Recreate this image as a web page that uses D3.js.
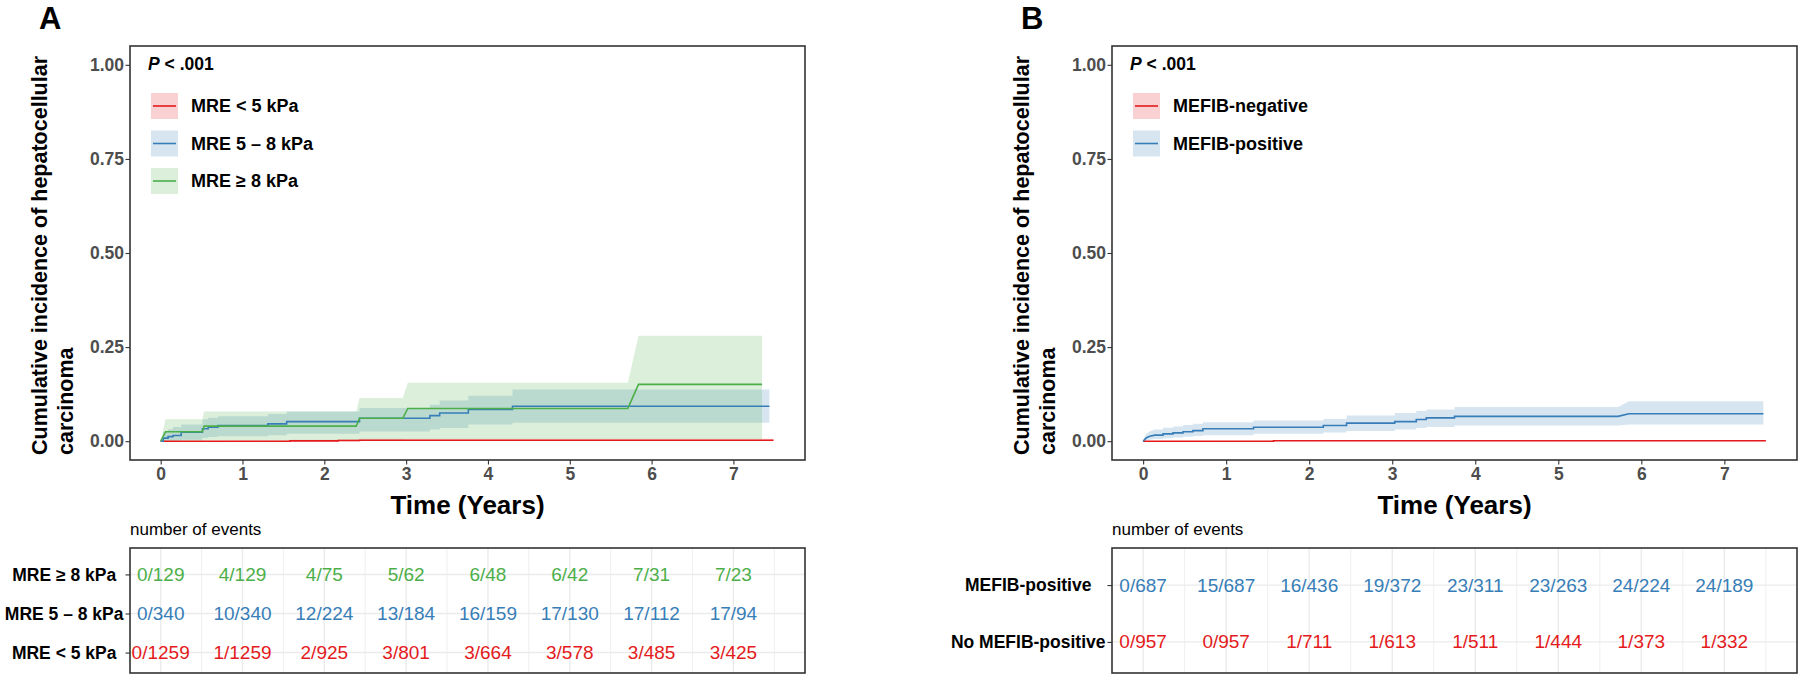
<!DOCTYPE html>
<html>
<head>
<meta charset="utf-8">
<script src="https://cdnjs.cloudflare.com/ajax/libs/d3/7.8.5/d3.min.js"></script>
<style>
  body { margin: 0; background: #fff; }
  svg { display: block; font-family: "Liberation Sans", Arial, sans-serif; }
</style>
</head>
<body>
<script>
// values
const yearTicks = [0, 1, 2, 3, 4, 5, 6, 7];
const incidenceTicks = [0, 0.25, 0.5, 0.75, 1];

const groupsA = ["MRE < 5 kPa", "MRE 5 – 8 kPa", "MRE ≥ 8 kPa"];
const colorsA = ["#E41A1C", "#377EB8", "#4DAF4A"];
const groupsB = ["MEFIB-negative", "MEFIB-positive"];
const colorsB = ["#E41A1C", "#377EB8"];

// curve vertices: [years, estimate, lower CI, upper CI]
const curveMreLow = [
  [0, 0, 0, 0], [1.58, 0, 0, 0.002], [1.58, 0.0008, 0, 0.004], [2.17, 0.0008, 0, 0.004],
  [2.17, 0.0017, 0, 0.005], [2.43, 0.0017, 0, 0.005], [2.43, 0.0025, 0.0005, 0.0065],
  [7.49, 0.0025, 0.0005, 0.0065]
];
const curveMreMid = [
  [0, 0, 0, 0], [0.03, 0, 0, 0], [0.03, 0.008, 0, 0.025], [0.09, 0.008, 0, 0.025],
  [0.09, 0.012, 0.001, 0.032], [0.15, 0.012, 0.001, 0.032], [0.15, 0.015, 0.002, 0.038],
  [0.25, 0.015, 0.002, 0.038], [0.25, 0.024, 0.004, 0.044], [0.51, 0.024, 0.004, 0.044],
  [0.51, 0.033, 0.009, 0.058], [0.58, 0.033, 0.009, 0.058], [0.58, 0.037, 0.011, 0.062],
  [0.70, 0.037, 0.011, 0.062], [0.70, 0.0415, 0.013, 0.066], [1.31, 0.0415, 0.013, 0.066],
  [1.31, 0.046, 0.016, 0.072], [1.54, 0.046, 0.016, 0.072], [1.54, 0.052, 0.020, 0.079],
  [2.43, 0.052, 0.020, 0.079], [2.43, 0.061, 0.026, 0.088], [3.29, 0.061, 0.026, 0.088],
  [3.29, 0.068, 0.031, 0.097], [3.41, 0.068, 0.031, 0.097], [3.41, 0.075, 0.035, 0.108],
  [3.76, 0.075, 0.035, 0.108], [3.76, 0.084, 0.044, 0.121], [4.30, 0.084, 0.044, 0.121],
  [4.30, 0.093, 0.049, 0.137], [7.44, 0.093, 0.049, 0.137]
];
const curveMreHigh = [
  [0, 0, 0, 0], [0.06, 0.025, 0, 0.058], [0.51, 0.025, 0, 0.058], [0.53, 0.040, 0.002, 0.079],
  [2.39, 0.040, 0.002, 0.079], [2.43, 0.061, 0.004, 0.115], [2.96, 0.061, 0.004, 0.115],
  [3.02, 0.087, 0.006, 0.155], [5.71, 0.087, 0.006, 0.155], [5.84, 0.151, 0.006, 0.28],
  [7.35, 0.151, 0.006, 0.28]
];
const curveMefibNeg = [
  [0, 0, 0, 0], [1.57, 0, 0, 0.001], [1.57, 0.001, 0, 0.003], [7.5, 0.001, 0, 0.003]
];
const curveMefibPos = [
  [0, 0, 0, 0], [0.02, 0.005, 0, 0.012], [0.04, 0.009, 0.002, 0.02], [0.08, 0.013, 0.004, 0.026],
  [0.14, 0.016, 0.006, 0.031], [0.24, 0.016, 0.006, 0.031], [0.24, 0.0195, 0.008, 0.036],
  [0.36, 0.0195, 0.008, 0.036], [0.36, 0.022, 0.010, 0.039], [0.48, 0.022, 0.010, 0.039],
  [0.48, 0.025, 0.012, 0.043], [0.60, 0.025, 0.012, 0.043], [0.60, 0.028, 0.014, 0.046],
  [0.72, 0.028, 0.014, 0.046], [0.72, 0.033, 0.016, 0.050], [1.33, 0.033, 0.016, 0.050],
  [1.33, 0.037, 0.0195, 0.055], [2.17, 0.037, 0.0195, 0.055], [2.17, 0.0416, 0.023, 0.059],
  [2.45, 0.0416, 0.023, 0.059], [2.45, 0.048, 0.027, 0.068], [3.03, 0.048, 0.027, 0.068],
  [3.03, 0.052, 0.031, 0.075], [3.29, 0.052, 0.031, 0.075], [3.29, 0.0575, 0.035, 0.080],
  [3.41, 0.0575, 0.035, 0.080], [3.41, 0.062, 0.038, 0.084], [3.75, 0.062, 0.038, 0.084],
  [3.75, 0.066, 0.042, 0.091], [5.72, 0.066, 0.042, 0.091], [5.85, 0.073, 0.044, 0.106],
  [7.47, 0.073, 0.044, 0.106]
];

// number of events tables (top row first)
const riskRowsA = ["MRE ≥ 8 kPa", "MRE 5 – 8 kPa", "MRE < 5 kPa"];
const riskColorsA = ["#4DAF4A", "#377EB8", "#E41A1C"];
const riskHigh = ["0/129", "4/129", "4/75", "5/62", "6/48", "6/42", "7/31", "7/23"];
const riskMid = ["0/340", "10/340", "12/224", "13/184", "16/159", "17/130", "17/112", "17/94"];
const riskLow = ["0/1259", "1/1259", "2/925", "3/801", "3/664", "3/578", "3/485", "3/425"];

const riskRowsB = ["MEFIB-positive", "No MEFIB-positive"];
const riskColorsB = ["#377EB8", "#E41A1C"];
const riskPos = ["0/687", "15/687", "16/436", "19/372", "23/311", "23/263", "24/224", "24/189"];
const riskNoPos = ["0/957", "0/957", "1/711", "1/613", "1/511", "1/444", "1/373", "1/332"];

const plotTop = 46, plotBottom = 460;
const tableTop = 548, tableBottom = 673;

let svg = d3.select("body").append("svg")
  .attr("width", 1800)
  .attr("height", 676);

svg.append("rect").attr("width", 1800).attr("height", 676).attr("fill", "#fff");

drawPanel({
  letter: "A", left: 130, right: 805,
  groups: groupsA, colors: colorsA,
  curves: [curveMreLow, curveMreMid, curveMreHigh],
  rows: riskRowsA, rowColors: riskColorsA,
  table: [riskHigh, riskMid, riskLow]
});

drawPanel({
  letter: "B", left: 1112, right: 1797,
  groups: groupsB, colors: colorsB,
  curves: [curveMefibNeg, curveMefibPos],
  rows: riskRowsB, rowColors: riskColorsB,
  table: [riskPos, riskNoPos]
});

function drawPanel(p) {
  let x = d3.scaleLinear().domain([-0.375, 7.875]).range([p.left, p.right]);
  let y = d3.scaleLinear().domain([-0.05, 1.05]).range([plotBottom, plotTop]);
  let g = svg.append("g");

  // panel letter
  g.append("text")
    .attr("x", p.left - 91)
    .attr("y", 28.5)
    .text(p.letter)
    .style("font-size", "31px")
    .style("font-weight", "bold");

  // ribbons then lines
  let area = d3.area()
    .x(d => x(d[0]))
    .y0(d => y(d[2]))
    .y1(d => y(d[3]));
  let line = d3.line()
    .x(d => x(d[0]))
    .y(d => y(d[1]));

  p.curves.forEach((c, i) => {
    g.append("path")
      .datum(c)
      .attr("d", area)
      .attr("fill", p.colors[i])
      .attr("fill-opacity", 0.2);
  });
  p.curves.forEach((c, i) => {
    g.append("path")
      .datum(c)
      .attr("d", line)
      .attr("fill", "none")
      .attr("stroke", p.colors[i])
      .attr("stroke-width", 1.6);
  });

  // axes
  let yAxis = d3.axisLeft(y)
    .tickValues(incidenceTicks)
    .tickFormat(d3.format(".2f"))
    .tickSize(4.5)
    .tickPadding(1.5);
  let xAxis = d3.axisBottom(x)
    .tickValues(yearTicks)
    .tickFormat(d3.format("d"))
    .tickSize(4.5)
    .tickPadding(3);

  let ya = g.append("g")
    .attr("transform", `translate(${p.left}, 0)`)
    .call(yAxis);
  let xa = g.append("g")
    .attr("transform", `translate(0, ${plotBottom})`)
    .call(xAxis);
  [ya, xa].forEach(a => {
    a.select(".domain").remove();
    a.selectAll("line").attr("stroke", "#333").attr("stroke-width", 1.1);
    a.selectAll("text")
      .attr("fill", "#4d4d4d")
      .style("font-size", "17.5px")
      .style("font-weight", "bold")
      .style("font-family", "'Liberation Sans', Arial, sans-serif");
  });

  // panel border
  g.append("rect")
    .attr("x", p.left)
    .attr("y", plotTop)
    .attr("width", p.right - p.left)
    .attr("height", plotBottom - plotTop)
    .attr("fill", "none")
    .attr("stroke", "#333")
    .attr("stroke-width", 1.6);

  // y title, two lines
  let yt = g.append("text")
    .attr("transform", `translate(${p.left - 83.5}, 455) rotate(-90)`)
    .style("font-size", "21.5px")
    .style("font-weight", "bold");
  yt.append("tspan").attr("x", 0).attr("y", 0).text("Cumulative incidence of hepatocellular");
  yt.append("tspan").attr("x", 0).attr("y", 26).text("carcinoma");

  // x title
  g.append("text")
    .attr("x", (p.left + p.right) / 2)
    .attr("y", 514)
    .attr("text-anchor", "middle")
    .text("Time (Years)")
    .style("font-size", "26px")
    .style("font-weight", "bold");

  // P value
  let pt = g.append("text")
    .attr("x", p.left + 18)
    .attr("y", 70)
    .style("font-size", "17.5px")
    .style("font-weight", "bold");
  pt.append("tspan").style("font-style", "italic").text("P");
  pt.append("tspan").text(" < .001");

  // legend
  p.groups.forEach((name, i) => {
    let cy = 106 + i * 37.5;
    g.append("rect")
      .attr("x", p.left + 21)
      .attr("y", cy - 13)
      .attr("width", 27)
      .attr("height", 26)
      .attr("fill", p.colors[i])
      .attr("fill-opacity", 0.2);
    g.append("line")
      .attr("x1", p.left + 23)
      .attr("x2", p.left + 46)
      .attr("y1", cy)
      .attr("y2", cy)
      .attr("stroke", p.colors[i])
      .attr("stroke-width", 1.6);
    g.append("text")
      .attr("x", p.left + 61)
      .attr("y", cy)
      .attr("dominant-baseline", "central")
      .text(name)
      .style("font-size", "18px")
      .style("font-weight", "bold");
  });

  drawTable(g, x, p);
}

// number of events table under the plot
function drawTable(g, x, p) {
  let ty = d3.scalePoint()
    .domain(p.rows)
    .range([tableTop + 3, tableBottom + 3])
    .padding(0.6);

  g.append("text")
    .attr("x", p.left)
    .attr("y", 535)
    .text("number of events")
    .style("font-size", "17px");

  // grid: majors at whole years, minors at half years, and one per row
  let gridX = d3.range(0, 8, 0.5);
  g.selectAll(".gx" + p.letter)
    .data(gridX)
    .enter()
    .append("line")
      .attr("x1", d => x(d))
      .attr("x2", d => x(d))
      .attr("y1", tableTop)
      .attr("y2", tableBottom)
      .attr("stroke", "#ebebeb")
      .attr("stroke-width", d => d % 1 === 0 ? 1.4 : 0.8);
  g.selectAll(".gy" + p.letter)
    .data(p.rows)
    .enter()
    .append("line")
      .attr("x1", p.left)
      .attr("x2", p.right)
      .attr("y1", d => ty(d))
      .attr("y2", d => ty(d))
      .attr("stroke", "#ebebeb")
      .attr("stroke-width", 1.4);

  p.rows.forEach((r, i) => {
    g.selectAll(".n" + p.letter + i)
      .data(p.table[i])
      .enter()
      .append("text")
        .attr("x", (d, j) => x(yearTicks[j]))
        .attr("y", ty(r))
        .attr("text-anchor", "middle")
        .attr("dominant-baseline", "central")
        .attr("fill", p.rowColors[i])
        .text(d => d)
        .style("font-size", "19px");
  });

  g.append("rect")
    .attr("x", p.left)
    .attr("y", tableTop)
    .attr("width", p.right - p.left)
    .attr("height", tableBottom - tableTop)
    .attr("fill", "none")
    .attr("stroke", "#333")
    .attr("stroke-width", 1.6);

  // row labels, centred within the label column like ggplot does
  let ra = g.append("g")
    .attr("transform", `translate(${p.left}, 0)`)
    .call(d3.axisLeft(ty).tickSize(4.5).tickPadding(2));
  ra.select(".domain").remove();
  ra.selectAll("line").attr("stroke", "#333").attr("stroke-width", 1.1);
  let labels = ra.selectAll("text")
    .attr("fill", "#000")
    .style("font-size", "17.5px")
    .style("font-weight", "bold")
    .style("font-family", "'Liberation Sans', Arial, sans-serif");
  let maxW = d3.max(labels.nodes(), n => n.getComputedTextLength());
  labels.attr("text-anchor", "middle").attr("x", -(6.5 + maxW / 2));
}
</script>
</body>
</html>
